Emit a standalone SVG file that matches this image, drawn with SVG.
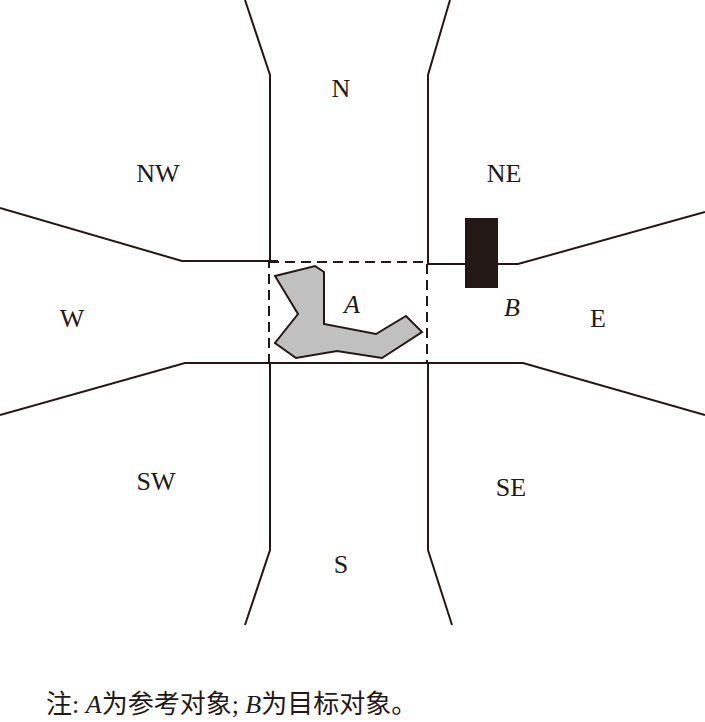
<svg xmlns="http://www.w3.org/2000/svg" width="705" height="722" viewBox="0 0 705 722">
<style>
.l{fill:none;stroke:#231815;stroke-width:2}
.t{font-family:"Liberation Serif","Noto Sans CJK SC",serif;font-size:26px;fill:#231815}
.i{font-style:italic}
</style>
<rect width="705" height="722" fill="#fff"/>
<g id="connectors">
<polyline class="l" points="245,0 270,75 270,262"/>
<polyline class="l" points="450,0 428,75 428,265"/>
<polyline class="l" points="0,208 182,261 278,261"/>
<polyline class="l" points="428,264 518,264 705,212"/>
<polyline class="l" points="0,415 185,363 523,363 705,415"/>
<polyline class="l" points="270,363 270,550 245,625"/>
<polyline class="l" points="428,363 428,550 452,625"/>
<rect x="269" y="262" width="158" height="101" fill="none" stroke="#231815" stroke-width="2" stroke-dasharray="10,6"/>
</g>
<g id="A">
<polygon points="275,276 315,266 324,272 324,324 376,334 406,316 422,332 382,358 337,351 296,358 275,343 298,314" fill="#c0c0c0" stroke="#231815" stroke-width="2"/>
<text class="t i" x="344" y="313">A</text>
</g>
<g id="B">
<rect x="465" y="218" width="33" height="70" fill="#231815"/>
<text class="t i" x="504" y="316">B</text>
</g>
<g id="labels">
<text class="t" x="341" y="97" text-anchor="middle">N</text>
<text class="t" x="158" y="182" text-anchor="middle">NW</text>
<text class="t" x="504" y="182" text-anchor="middle">NE</text>
<text class="t" x="72" y="327" text-anchor="middle">W</text>
<text class="t" x="598" y="327" text-anchor="middle">E</text>
<text class="t" x="156" y="490" text-anchor="middle">SW</text>
<text class="t" x="511" y="496" text-anchor="middle">SE</text>
<text class="t" x="341" y="573" text-anchor="middle">S</text>
</g>
<text class="t" x="46" y="713" font-size="28">注: <tspan font-style="italic">A</tspan>为参考对象; <tspan font-style="italic">B</tspan>为目标对象。</text>
</svg>
